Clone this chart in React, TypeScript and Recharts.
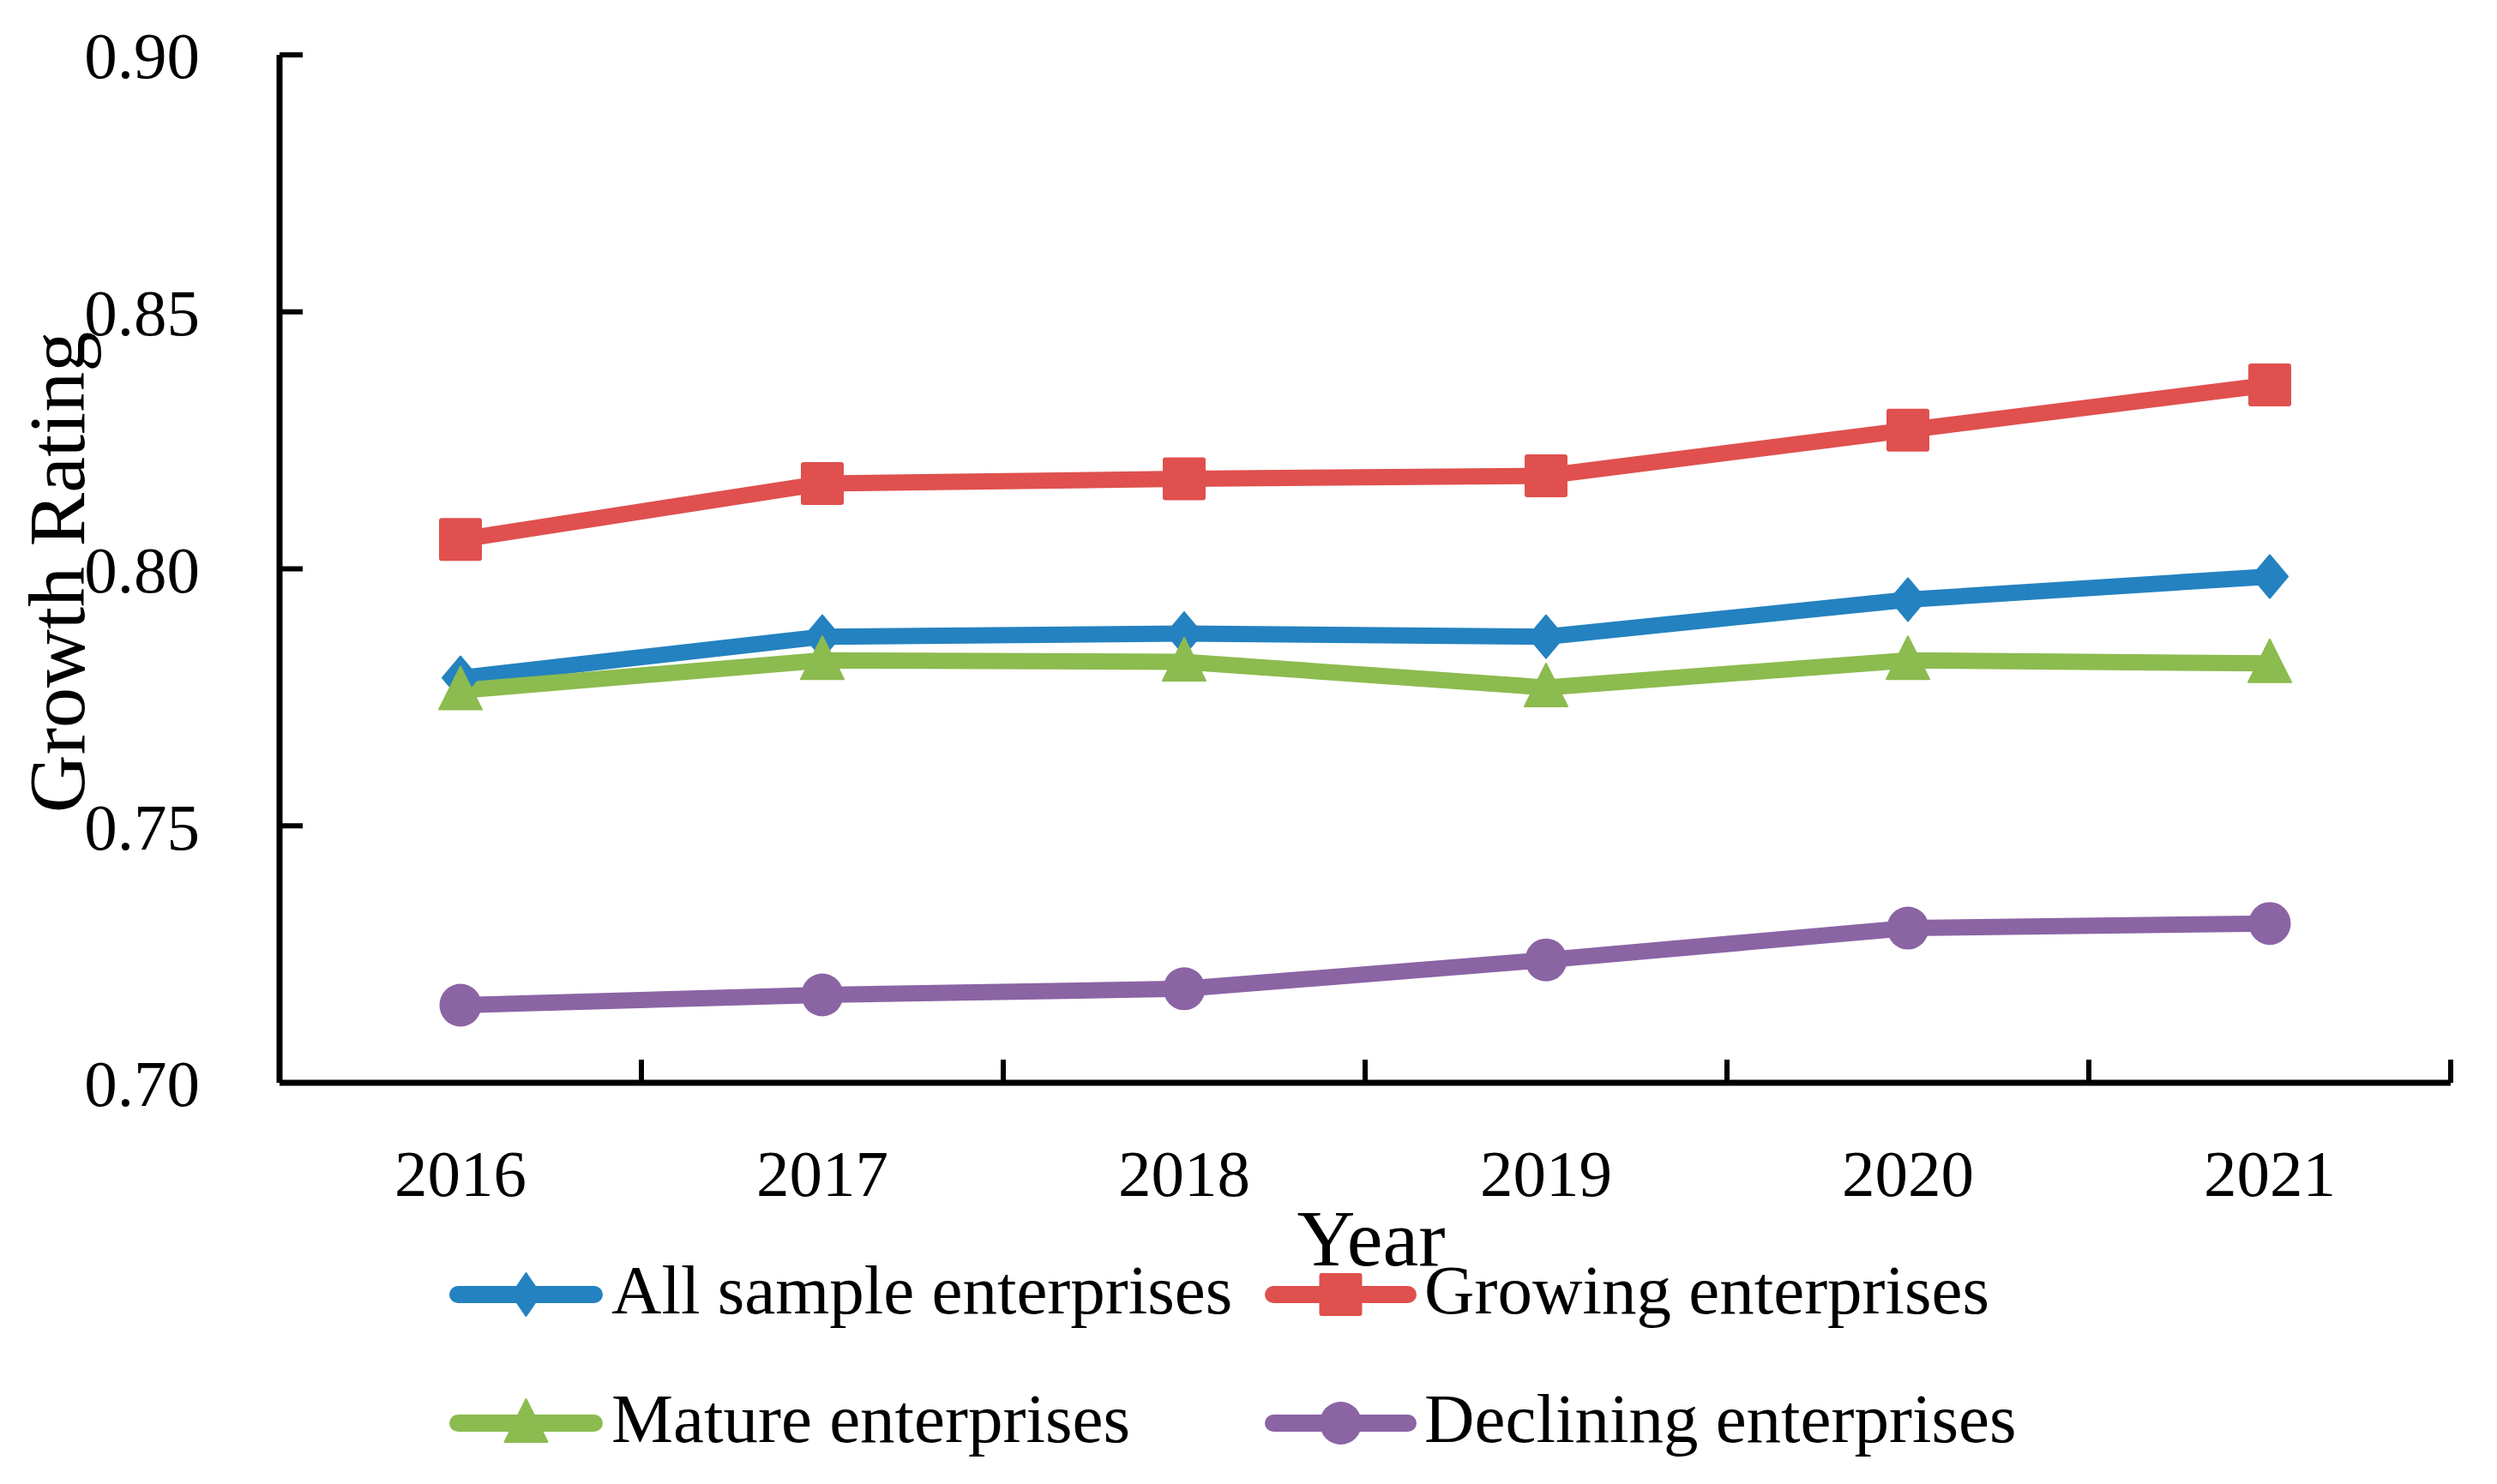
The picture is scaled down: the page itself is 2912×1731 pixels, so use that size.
import React from 'react'
import { LineChart, Line, XAxis, YAxis, Legend } from 'recharts'

const years = ['2016', '2017', '2018', '2019', '2020', '2021']
const allSample = [0.7788, 0.7868, 0.7874, 0.7868, 0.794, 0.7985]
const growing = [0.8057, 0.8166, 0.8175, 0.8181, 0.827, 0.8358]
const mature = [0.7763, 0.7822, 0.7819, 0.7769, 0.7822, 0.7816]
const declining = [0.7151, 0.7171, 0.7183, 0.7239, 0.7301, 0.731]
const yTicks = [0.7, 0.75, 0.8, 0.85, 0.9]

const FONT = '"Liberation Serif", "Times New Roman", serif'
const TICK_MARGIN = 77

type Shape = 'diamond' | 'square' | 'triangle' | 'circle'

const series: { key: string; name: string; color: string; shape: Shape }[] = [
  { key: 'all', name: 'All sample enterprises', color: '#2482c0', shape: 'diamond' },
  { key: 'growing', name: 'Growing enterprises', color: '#df504e', shape: 'square' },
  { key: 'mature', name: 'Mature enterprises', color: '#8cbb4f', shape: 'triangle' },
  { key: 'declining', name: 'Declining enterprises', color: '#8b64a4', shape: 'circle' },
]

const data = years.map((year, i) => ({
  year,
  all: allSample[i],
  growing: growing[i],
  mature: mature[i],
  declining: declining[i],
}))

function Marker({ cx, cy, shape, color, diamondW = 42 }: any) {
  if (cx == null || cy == null) return null
  switch (shape) {
    case 'diamond': {
      const w = diamondW / 2
      return (
        <path
          d={`M${cx},${cy - 25} L${cx + w},${cy} L${cx},${cy + 25} L${cx - w},${cy} Z`}
          fill={color}
          stroke={color}
          strokeWidth={2}
          strokeLinejoin="round"
        />
      )
    }
    case 'square':
      return <rect x={cx - 25} y={cy - 25} width={50} height={50} rx={3} fill={color} />
    case 'triangle':
      return (
        <path
          d={`M${cx},${cy - 28} L${cx + 25},${cy + 22} L${cx - 25},${cy + 22} Z`}
          fill={color}
          stroke={color}
          strokeWidth={2}
          strokeLinejoin="round"
        />
      )
    default:
      return <ellipse cx={cx} cy={cy} rx={24.5} ry={25} fill={color} />
  }
}

// year label at the band centre, tick mark at the band's right edge
function YearTick(props: any) {
  const { x, y, payload } = props
  const half = payload && typeof payload.offset === 'number' && payload.offset > 0 ? payload.offset : 212
  const axisY = y - TICK_MARGIN
  const edge = payload.coordinate + half
  return (
    <g>
      <line x1={edge} x2={edge} y1={axisY} y2={axisY - 27} stroke="#000" strokeWidth={6} />
      <text x={x} y={y} dy="0.71em" textAnchor="middle" fontSize={77} fontFamily={FONT} fill="#000">
        {payload.value}
      </text>
    </g>
  )
}

// legend slots: symbol line start/end, text start, row centre
const legendSlots = [
  { x1: 524, x2: 703, tx: 713, y: 1510 },
  { x1: 1475, x2: 1652, tx: 1661, y: 1510 },
  { x1: 524, x2: 703, tx: 713, y: 1660 },
  { x1: 1475, x2: 1652, tx: 1661, y: 1660 },
]

function renderLegend() {
  return (
    <svg
      width={2912}
      height={1731}
      style={{ position: 'absolute', left: 0, top: 0, overflow: 'visible', pointerEvents: 'none' }}
    >
      {series.map((s, i) => {
        const slot = legendSlots[i]
        const mid = (slot.x1 + slot.x2) / 2
        return (
          <g key={s.key}>
            <line
              x1={slot.x1 + 10}
              x2={slot.x2 - 10}
              y1={slot.y}
              y2={slot.y}
              stroke={s.color}
              strokeWidth={20}
              strokeLinecap="round"
            />
            <Marker cx={mid} cy={slot.y} shape={s.shape} color={s.color} diamondW={34} />
            <text x={slot.tx} y={slot.y + 22} fontSize={81} fontFamily={FONT} fill="#000">
              {s.name}
            </text>
          </g>
        )
      })}
    </svg>
  )
}

export default function App() {
  return (
    <div style={{ position: 'absolute', left: 0, top: 0, width: 2912, height: 1731, background: '#fff' }}>
      <LineChart
        width={2912}
        height={1731}
        data={data}
        margin={{ top: 64, right: 54, left: 0, bottom: 0 }}
      >
        <XAxis
          dataKey="year"
          scale="band"
          height={468}
          axisLine={{ stroke: '#000', strokeWidth: 7 }}
          tickLine={false}
          tickSize={0}
          tickMargin={TICK_MARGIN}
          interval={0}
          tick={<YearTick />}
          label={{
            value: 'Year',
            position: 'insideTop',
            offset: 146,
            dx: 7,
            fontSize: 94,
            fill: '#000',
            fontFamily: FONT,
          }}
        />
        <YAxis
          type="number"
          domain={[0.7, 0.9]}
          ticks={yTicks}
          width={326}
          tickSize={-27}
          tickMargin={120}
          tickFormatter={(v: number) => v.toFixed(2)}
          tick={{ fontSize: 77, fill: '#000', fontFamily: FONT }}
          axisLine={{ stroke: '#000', strokeWidth: 7 }}
          tickLine={{ stroke: '#000', strokeWidth: 6 }}
          label={{
            value: 'Growth Rating',
            angle: -90,
            position: 'center',
            dx: -98,
            dy: 4,
            fontSize: 94,
            fill: '#000',
            fontFamily: FONT,
          }}
        />
        <Legend content={renderLegend} wrapperStyle={{ position: 'absolute', left: 0, top: 0, width: 2912, height: 0 }} />
        {series.map((s) => (
          <Line
            key={s.key}
            type="linear"
            dataKey={s.key}
            name={s.name}
            stroke={s.color}
            strokeWidth={19}
            isAnimationActive={false}
            dot={(p: any) => (
              <Marker key={`${s.key}-${p.index}`} cx={p.cx} cy={p.cy} shape={s.shape} color={s.color} />
            )}
            activeDot={false}
          />
        ))}
      </LineChart>
    </div>
  )
}
